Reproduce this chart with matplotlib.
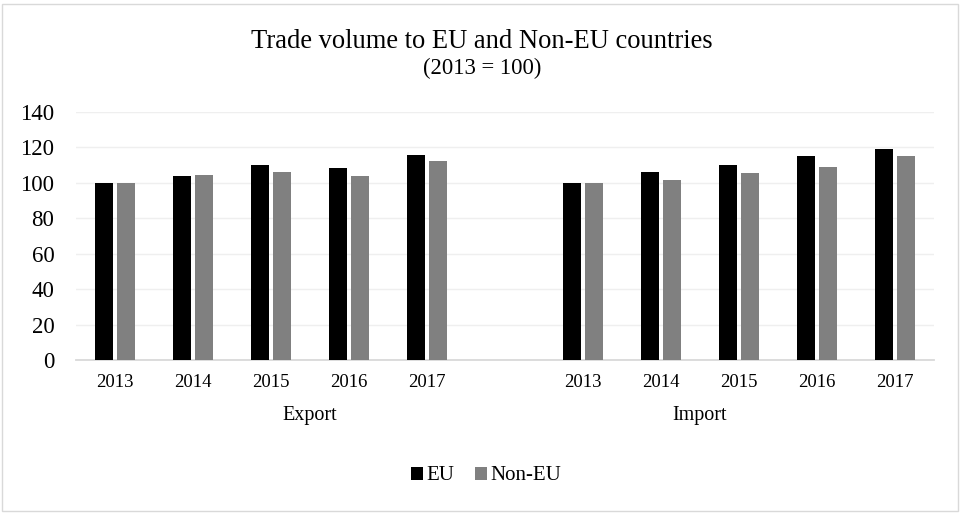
import matplotlib
matplotlib.use("Agg")
import matplotlib.pyplot as plt
from matplotlib.patches import Rectangle, Patch
import numpy as np

plt.rcParams['font.family'] = ['Liberation Serif', 'DejaVu Serif']

years = ["2013", "2014", "2015", "2016", "2017"]
groups = ["Export", "Import"]
export_eu = [100.0, 103.6, 110.0, 108.3, 115.6]
export_non_eu = [100.0, 104.3, 106.4, 103.8, 112.4]
import_eu = [100.0, 106.0, 110.0, 115.4, 119.2]
import_non_eu = [100.0, 101.7, 105.3, 108.7, 115.2]
series_names = ["EU", "Non-EU"]
colors = ["#000000", "#808080"]
yticks = [0, 20, 40, 60, 80, 100, 120, 140]

fig = plt.figure(figsize=(9.61, 5.13), dpi=100)
fig.patch.set_facecolor("white")
fig.patches.append(Rectangle((2 / 961, 2 / 513), 956 / 961, 507 / 513,
                             transform=fig.transFigure, fill=False,
                             edgecolor="#d9d9d9", linewidth=1.0))

ax = fig.add_axes([76 / 961, 1 - 360 / 513, 858 / 961, 248 / 513])

# category slots: five years, one empty slot, five years
n = len(years)
x_exp = np.arange(n)
x_imp = np.arange(n) + n + 1
bw = 0.224
off = 0.141

ax.bar(x_exp - off, export_eu, bw, color=colors[0], zorder=3)
ax.bar(x_exp + off, export_non_eu, bw, color=colors[1], zorder=3)
ax.bar(x_imp - off, import_eu, bw, color=colors[0], zorder=3)
ax.bar(x_imp + off, import_non_eu, bw, color=colors[1], zorder=3)

ax.set_xlim(-0.5, 2 * n + 0.5)
ax.set_ylim(0, 140)
ax.set_yticks(yticks)
ax.set_yticklabels([str(v) for v in yticks], fontsize=16.5)
ax.yaxis.grid(True, color="#efefef", linewidth=1.0, zorder=0)
ax.tick_params(axis="y", length=0, pad=15.5)

ax.set_xticks(list(x_exp) + list(x_imp))
ax.set_xticklabels(years + years, fontsize=13.5)
ax.tick_params(axis="x", length=0, pad=10)

for s in ["top", "right", "left"]:
    ax.spines[s].set_visible(False)
ax.spines["bottom"].set_color("#d9d9d9")
ax.spines["bottom"].set_linewidth(1.3)

# group labels below the year labels
centers = [(x_exp[0] + (x_exp[-1] + 1)) / 2, (x_imp[0] - 1 + x_imp[-1]) / 2]
for c, g in zip(centers, groups):
    ax.text(c, -0.222, g, transform=ax.get_xaxis_transform(),
            ha="center", va="center", fontsize=14.5)

fig.text(0.5 + 1.5 / 961, 1 - 42 / 513, "Trade volume to EU and Non-EU countries",
         ha="center", va="center", fontsize=19.1)
fig.text(0.5 + 1.5 / 961, 1 - 68 / 513, "(2013 = 100)",
         ha="center", va="center", fontsize=16.3)

handles = [Patch(facecolor=c, edgecolor="none") for c in colors]
fig.legend(handles, series_names, loc="center", bbox_to_anchor=(486 / 961, 1 - 476 / 513),
           ncol=2, frameon=False, fontsize=15, handlelength=0.6, handleheight=0.6,
           handletextpad=0.15, columnspacing=1.0)

fig.savefig("out.png", dpi=100, facecolor="white")
